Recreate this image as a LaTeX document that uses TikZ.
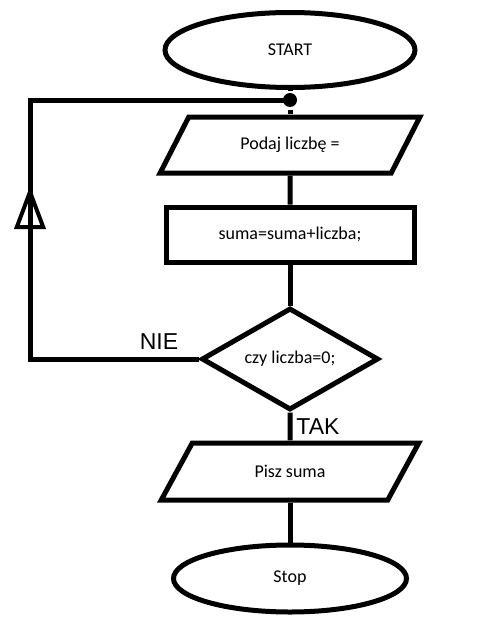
\documentclass[tikz,border=0pt]{standalone}
\usepackage{fontspec}
\setmainfont{Carlito}
\newfontfamily\bigfont{Liberation Sans}
\usetikzlibrary{shapes.geometric,arrows.meta,decorations.markings}

\begin{document}
\begin{tikzpicture}[x=1pt,y=-1pt, line width=5pt, line join=miter,
  every node/.style={font=\fontsize{18}{20}\selectfont},
  term/.style={draw, ellipse, inner sep=0pt},
  io/.style={draw, trapezium, trapezium left angle=48, trapezium right angle=132,
    trapezium stretches=true, minimum width=260, minimum height=56, inner sep=0pt},
  proc/.style={draw, rectangle, minimum width=248, minimum height=55, inner sep=0pt},
  cond/.style={draw, diamond, aspect=1.74, minimum width=177, minimum height=102, inner sep=0pt},
  lbl/.style={font=\bigfont\fontsize{23}{25}\selectfont}]

  \useasboundingbox (0,0) rectangle (485,637);

  \def\cx{290};

  %blocks
  \node[term, minimum width=250, minimum height=75] (start) at (\cx,50) {START};
  \node[circle, fill, inner sep=0pt, minimum size=14] (dot) at (\cx,100) {};
  \node[io] (in1) at (\cx,145) {Podaj liczbę =};
  \node[proc] (sum) at (\cx,234.5) {suma=suma+liczba;};
  \node[cond] (test) at (\cx,359) {czy liczba=0;};
  \node[io, minimum height=57] (out1) at (\cx,471.5) {Pisz suma};
  \node[term, minimum width=233, minimum height=67] (stop) at (\cx,578.5) {Stop};

  %labels
  \node[lbl] (nie) at (159,342) {NIE};
  \node[lbl] (tak) at (318,427) {TAK};

  %connectors
  \draw (start) -- (dot);
  \draw (dot) -- (in1);
  \draw (in1) -- (sum);
  \draw (sum) -- (test);
  \draw (test) -- (out1);
  \draw (out1) -- (stop);

  %loop back
  \coordinate (c1) at (30,359);
  \coordinate (c2) at (30,100);
  \draw[postaction={decorate}, decoration={markings,
      mark=at position 342pt with {\arrow{Triangle[open,length=43pt,width=31pt,line width=4pt]}}}]
    (test.west) -- (c1) -- (c2) -- (dot.center);

\end{tikzpicture}
\end{document}
